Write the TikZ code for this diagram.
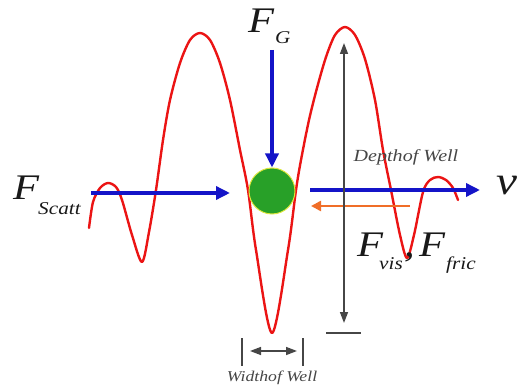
\documentclass[tikz,border=0pt]{standalone}
\usepackage{fontspec}
\setmainfont{Liberation Serif}
\usetikzlibrary{arrows.meta}
\definecolor{curvecol}{RGB}{235,20,20}
\definecolor{forceblue}{RGB}{20,20,200}
\definecolor{fricorange}{RGB}{240,110,40}
\definecolor{ballgreen}{RGB}{40,160,40}
\definecolor{balledge}{RGB}{220,230,60}
\definecolor{dimgray}{RGB}{70,70,70}
\definecolor{txt}{RGB}{25,25,25}
\newcommand{\bigF}{\fontsize{36}{36}\selectfont\itshape}
\newcommand{\subF}{\fontsize{18}{18}\selectfont\itshape}
\newcommand{\hs}[1]{\scalebox{1.18}[1]{#1}}
\begin{document}
\begin{tikzpicture}[x=1pt,y=-1pt,
  wellcurve/.style={draw=curvecol,line width=2.4pt,line join=round,line cap=round},
  bluearrow/.style={draw=forceblue,line width=3.4pt,-{Triangle[length=14pt,width=13pt]}},
  orangearrow/.style={draw=fricorange,line width=2.4pt,-{Triangle[length=10pt,width=10pt]}},
  dimarrow/.style={draw=dimgray,line width=1.5pt,{Triangle[length=11pt,width=8pt]}-{Triangle[length=11pt,width=8pt]}},
  dimbar/.style={draw=dimgray,line width=1.8pt},
  lab/.style={inner sep=0pt,anchor=base west,text=txt},
  dimlab/.style={inner sep=0pt,text=dimgray,font=\itshape}]
\useasboundingbox (0,0) rectangle (517,390);
% potential curve
\draw[wellcurve] plot[smooth,tension=0.5] coordinates{
 (89,228) (93,202) (100,188) (108,183) (116,187) (122,200) (132,235) (142,262)
 (149,232) (156,190) (163,140) (170,100) (180,63) (190,40) (200,33) (210,40)
 (220,63) (230,100) (240,150) (248,190) (256,250) (272,333) (288,250) (296,190)
 (301,160) (309,120) (317,88) (326,57) (335,35) (345,27) (355,35) (365,59) (375,100)
 (383,150) (391,190) (400,235) (407,258) (414,235) (423,192) (430,180) (438,177)
 (446,180) (453,188) (458,200)};
% particle
\node[circle,fill=ballgreen,draw=balledge,line width=1pt,minimum size=46pt,inner sep=0pt] (ball) at (272,191) {};
% coordinates
\coordinate (scA) at (91,193);
\coordinate (scB) at (230,193);
\coordinate (gA) at (272,50);
\coordinate (vA) at (310,190);
\coordinate (vB) at (480,190);
\coordinate (frA) at (410,206);
\coordinate (frB) at (311,206);
\coordinate (dTop) at (344,43);
\coordinate (dBot) at (344,323);
\coordinate (barL) at (326,333);
\coordinate (barR) at (361,333);
\coordinate (w1a) at (242,338);
\coordinate (w1b) at (242,366);
\coordinate (w2a) at (303,338);
\coordinate (w2b) at (303,366);
\coordinate (waL) at (250,351);
\coordinate (waR) at (297,351);
% forces
\draw[bluearrow] (scA) -- (scB);
\draw[bluearrow] (gA) -- (ball.north);
\draw[bluearrow] (vA) -- (vB);
\draw[orangearrow] (frA) -- (frB);
% depth of well
\draw[dimarrow] (dTop) -- (dBot);
\draw[dimbar] (barL) -- (barR);
\node[dimlab,font=\fontsize{17}{17}\selectfont\itshape] (depth) at (406,157) {\hs{Depthof Well}};
% width of well
\draw[dimbar] (w1a) -- (w1b);
\draw[dimbar] (w2a) -- (w2b);
\draw[dimarrow] (waL) -- (waR);
\node[dimlab,font=\fontsize{15}{15}\selectfont\itshape] (width) at (272,378) {\hs{Widthof Well}};
% labels
\node[lab] (Fs) at (13,200) {\bigF\hs{F}};
\node[lab] (Fss) at (38,215) {\subF\hs{Scatt}};
\node[lab] (Fg) at (248,33) {\bigF\hs{F}};
\node[lab] (Fgs) at (275,44) {\subF\hs{G}};
\node[lab] (Fv) at (357,257) {\bigF\hs{F}};
\node[lab] (Fvs) at (379,270) {\subF\hs{vis}};
\node[lab] (comma) at (404,257) {\bigF\hs{,}};
\node[lab] (Ff) at (419,257) {\bigF\hs{F}};
\node[lab] (Ffs) at (446,270) {\subF\hs{fric}};
\node[lab] (nu) at (496,195) {\fontsize{40}{40}\selectfont\itshape\hs{ν}};
\end{tikzpicture}
\end{document}
